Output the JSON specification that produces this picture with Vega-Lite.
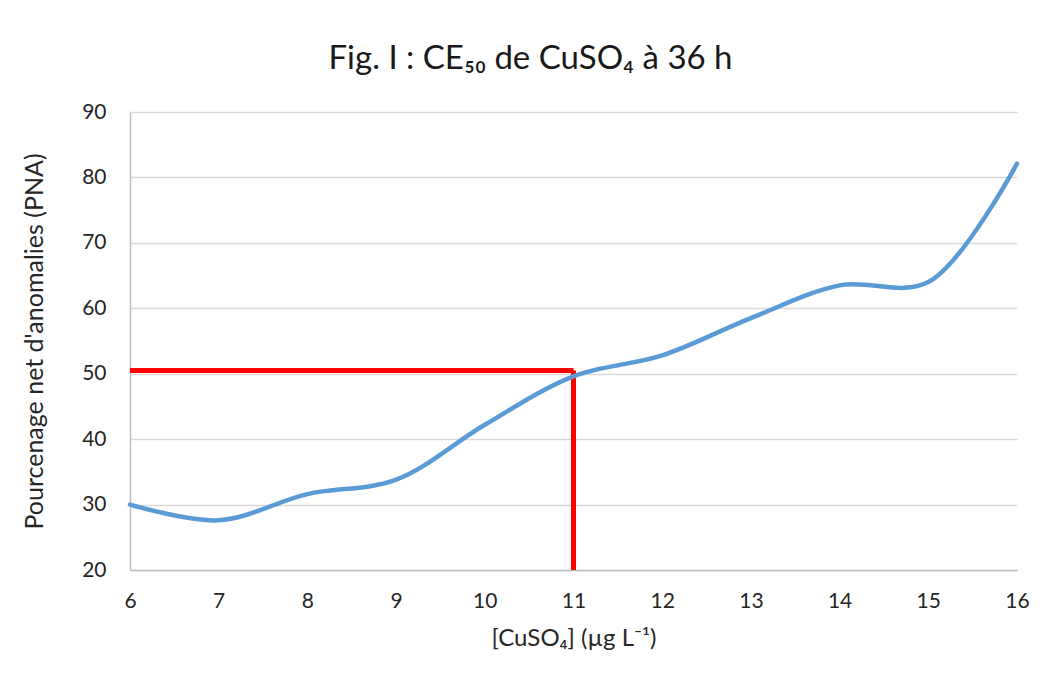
{
  "$schema": "https://vega.github.io/schema/vega-lite/v6.json",
  "autosize": "none",
  "width": 887,
  "height": 458,
  "padding": {"left": 130, "top": 112, "right": 26, "bottom": 113},
  "background": "white",
  "config": {"view": {"stroke": null}, "font": "Lato"},
  "title": {
    "text": "Fig. I : CE₅₀ de CuSO₄ à 36 h",
    "font": "Lato",
    "fontSize": 33,
    "fontWeight": "normal",
    "color": "#1a1a1a",
    "anchor": "middle",
    "baseline": "alphabetic",
    "offset": -1,
    "dx": -43
  },
  "datasets": {
    "curve": [
      {"conc": 6, "pna": 30.0},
      {"conc": 7, "pna": 27.6},
      {"conc": 8, "pna": 31.6},
      {"conc": 9, "pna": 33.8},
      {"conc": 10, "pna": 42.2},
      {"conc": 11, "pna": 49.6},
      {"conc": 12, "pna": 52.8},
      {"conc": 13, "pna": 58.5},
      {"conc": 14, "pna": 63.5},
      {"conc": 15, "pna": 64.0},
      {"conc": 16, "pna": 82.1}
    ],
    "ce50": [
      {"x1": 6, "x2": 11, "y1": 50.5, "y2": 50.5},
      {"x1": 11, "x2": 11, "y1": 20, "y2": 50.5}
    ]
  },
  "layer": [
    {
      "data": {"name": "ce50"},
      "mark": {"type": "rule", "color": "#FF0000", "strokeWidth": 5, "strokeCap": "butt"},
      "encoding": {
        "x": {"field": "x1", "type": "quantitative", "scale": {"domain": [6, 16], "nice": false, "zero": false}},
        "x2": {"field": "x2"},
        "y": {"field": "y1", "type": "quantitative", "scale": {"domain": [20, 90], "nice": false, "zero": false}},
        "y2": {"field": "y2"}
      }
    },
    {
      "data": {"name": "curve"},
      "mark": {"type": "line", "color": "#5B9BD5", "strokeWidth": 4.5, "interpolate": "catmull-rom", "strokeCap": "round"},
      "encoding": {
        "x": {
          "field": "conc", "type": "quantitative",
          "scale": {"domain": [6, 16], "nice": false, "zero": false},
          "axis": {
            "title": "[CuSO₄] (µg L⁻¹)",
            "values": [6, 7, 8, 9, 10, 11, 12, 13, 14, 15, 16],
            "format": "d",
            "labelFlush": false,
            "labelOverlap": false,
            "grid": false, "ticks": false,
            "domainColor": "#BFBFBF", "domainWidth": 1.5,
            "labelFont": "Lato", "labelFontSize": 21, "labelColor": "#262626", "labelPadding": 20,
            "titleFont": "Lato", "titleFontSize": 24, "titleFontWeight": "normal", "titleColor": "#262626", "titlePadding": 15
          }
        },
        "y": {
          "field": "pna", "type": "quantitative",
          "scale": {"domain": [20, 90], "nice": false, "zero": false},
          "axis": {
            "title": "Pourcenage net d'anomalies (PNA)",
            "values": [20, 30, 40, 50, 60, 70, 80, 90],
            "format": "d",
            "grid": true, "gridColor": "#D9D9D9", "gridWidth": 1.5,
            "ticks": false,
            "domainColor": "#BFBFBF", "domainWidth": 1.5,
            "labelFont": "Lato", "labelFontSize": 21, "labelColor": "#262626", "labelPadding": 24,
            "titleFont": "Lato", "titleFontSize": 25, "titleFontWeight": "normal", "titleColor": "#262626", "titlePadding": 34
          }
        }
      }
    }
  ]
}
